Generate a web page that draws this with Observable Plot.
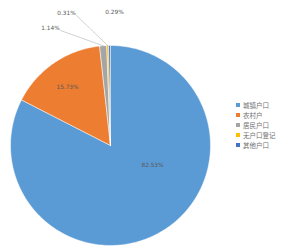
<!DOCTYPE html>
<html><head><meta charset="utf-8">
<script src="https://cdn.jsdelivr.net/npm/d3@7"></script>
<script src="https://cdn.jsdelivr.net/npm/@observablehq/plot@0.6"></script>
<style>
html,body{margin:0;padding:0;background:#fff;}
#wrap{position:relative;width:299px;height:250px;font-family:"Noto Sans CJK SC","Noto Sans",sans-serif;}
#legend{position:absolute;left:236px;top:101px;font-size:6.5px;color:#707070;line-height:9.9px;}
#legend .sw{display:inline-block;width:4px;height:4px;margin-right:3px;vertical-align:middle;position:relative;top:-1px;}
</style></head>
<body><div id="wrap"><div id="chart"></div><div id="legend"></div></div>
<script>
const categories = ["城镇户口", "农村户", "居民户口", "无户口登记", "其他户口"];
const values = [82.53, 15.73, 1.14, 0.31, 0.29];
const labels = ["82.53%", "15.73%", "1.14%", "0.31%", "0.29%"];
const colors = ["#5B9BD5", "#ED7D31", "#A5A5A5", "#FFC000", "#4472C4"];
// label anchors (pie-radius units) and whether a leader line is drawn
const labelX = [0.42, -0.43, -0.6, -0.44, 0.04];
const labelY = [-0.2, 0.58, 1.17, 1.32, 1.33];
const leader = [false, false, true, true, false];

const arcs = d3.pie().sort(null).value(d => d)(values);
const poly = [];
arcs.forEach((a, i) => {
  const n = Math.max(2, Math.ceil((a.endAngle - a.startAngle) / 0.02));
  poly.push({cat: categories[i], x: 0, y: 0});
  for (let k = 0; k <= n; k++) {
    const t = a.startAngle + (a.endAngle - a.startAngle) * k / n;
    poly.push({cat: categories[i], x: Math.sin(t), y: Math.cos(t)});
  }
  poly.push({cat: categories[i], x: 0, y: 0});
});
const lab = arcs.map((a, i) => ({label: labels[i], x: labelX[i], y: labelY[i]}));
const lines = [];
arcs.forEach((a, i) => {
  if (!leader[i]) return;
  const m = (a.startAngle + a.endAngle) / 2;
  lines.push({id: i, x: Math.sin(m), y: Math.cos(m)});
  lines.push({id: i, x: labelX[i] + 0.1, y: labelY[i] - 0.02});
});

const chart = Plot.plot({
  width: 299, height: 250,
  margin: 0,
  x: {domain: [-1, 1], range: [10, 210], axis: null},
  y: {domain: [-1, 1], range: [245, 45], axis: null},
  color: {domain: categories, range: colors},
  marks: [
    Plot.line(poly, {x: "x", y: "y", z: "cat", fill: "cat", stroke: "white", strokeWidth: 0.5, curve: "linear"}),
    Plot.line(lines, {x: "x", y: "y", z: "id", stroke: "#A6A6A6", strokeWidth: 0.6, strokeDasharray: "1,1"}),
    Plot.text(lab, {x: "x", y: "y", text: "label", fill: "#595959", fontSize: 5.8, fontFamily: "DejaVu Sans"})
  ]
});
document.getElementById("chart").appendChild(chart);
const lg = document.getElementById("legend");
categories.forEach((c, i) => {
  const row = document.createElement("div");
  row.innerHTML = `<span class="sw" style="background:${colors[i]}"></span>${c}`;
  lg.appendChild(row);
});
</script></body></html>
